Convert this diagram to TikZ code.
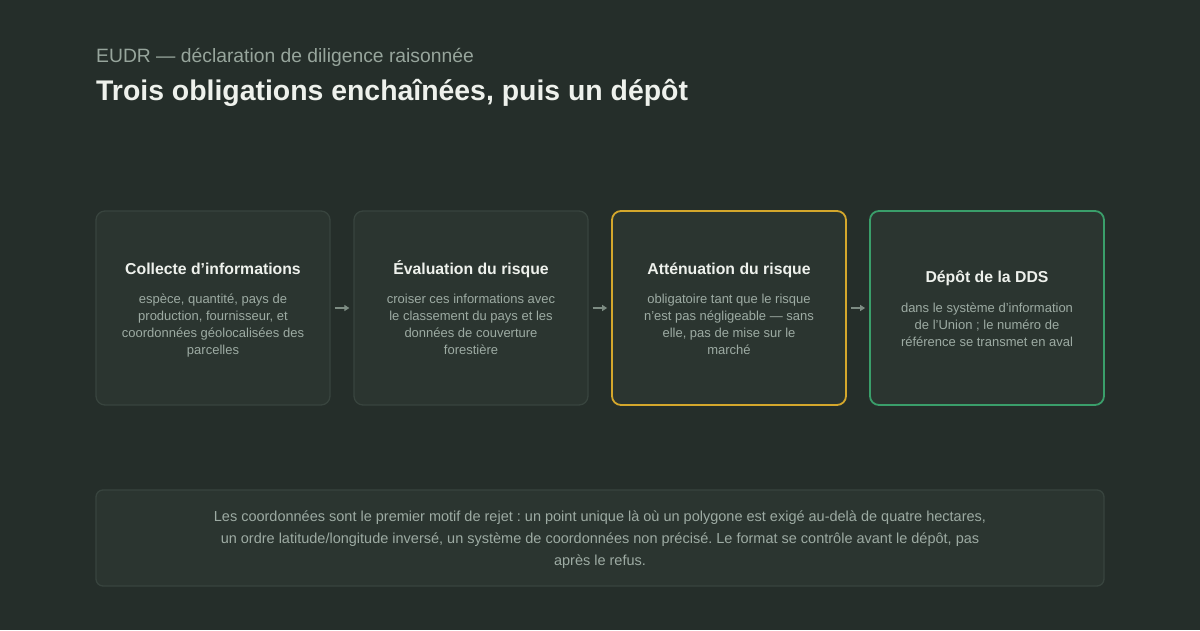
\documentclass[tikz,border=0pt]{standalone}
\usepackage{fontspec}
\setmainfont{Liberation Sans}
\usetikzlibrary{arrows.meta}
\frenchspacing
\definecolor{bgc}{HTML}{252E2A}
\definecolor{boxfill}{HTML}{2B3530}
\definecolor{boxline}{HTML}{38443E}
\definecolor{gold}{HTML}{D4A72C}
\definecolor{leaf}{HTML}{3A9E6A}
\definecolor{titlec}{HTML}{EEF1EC}
\definecolor{subc}{HTML}{97A59C}
\definecolor{bodyc}{HTML}{9DABA3}
\definecolor{arrc}{HTML}{7D8C83}
\tikzset{
  card/.style={draw=boxline, line width=1.3pt, fill=boxfill, rounded corners=9pt,
    minimum width=234pt, minimum height=194pt, inner sep=0pt},
  cardgold/.style={card, draw=gold, line width=1.8pt},
  cardgreen/.style={card, draw=leaf, line width=1.8pt},
  ttl/.style={anchor=base, inner sep=0pt, text=titlec, font=\fontsize{15.8}{19}\selectfont\bfseries},
  bodytxt/.style={anchor=base, inner sep=0pt, text=bodyc, font=\fontsize{13}{17}\selectfont},
  flow/.style={draw=arrc, line width=1.4pt, -{Triangle[length=5pt,width=6pt]}},
}
\begin{document}
\begin{tikzpicture}[x=1pt,y=-1pt]
\useasboundingbox (0,0) rectangle (1200,630);
\fill[bgc] (0,0) rectangle (1200,630);

\node[anchor=base west, inner sep=0pt, text=subc, font=\fontsize{19.3}{22}\selectfont] (sub) at (96,62) {EUDR — déclaration de diligence raisonnée};
\node[anchor=base west, inner sep=0pt, text=titlec, font=\fontsize{28.4}{32}\selectfont\bfseries] (head) at (96,100) {Trois obligations enchaînées, puis un dépôt};

\node[card] (b1) at (213,308) {};
\node[card] (b2) at (471,308) {};
\node[cardgold] (b3) at (729,308) {};
\node[cardgreen] (b4) at (987,308) {};

\node[ttl] (t1) at (213,274) {Collecte d’informations};
\node[bodytxt] (d1) at (213,303.5) {\begin{tabular}[t]{@{}c@{}}espèce, quantité, pays de\\production, fournisseur, et\\coordonnées géolocalisées des\\parcelles\end{tabular}};

\node[ttl] (t2) at (471,274) {Évaluation du risque};
\node[bodytxt] (d2) at (471,303.5) {\begin{tabular}[t]{@{}c@{}}croiser ces informations avec\\le classement du pays et les\\données de couverture\\forestière\end{tabular}};

\node[ttl] (t3) at (729,274) {Atténuation du risque};
\node[bodytxt] (d3) at (729,303.5) {\begin{tabular}[t]{@{}c@{}}obligatoire tant que le risque\\n’est pas négligeable — sans\\elle, pas de mise sur le\\marché\end{tabular}};

\node[ttl] (t4) at (987,282.5) {Dépôt de la DDS};
\node[bodytxt] (d4) at (987,312) {\begin{tabular}[t]{@{}c@{}}dans le système d’information\\de l’Union ; le numéro de\\référence se transmet en aval\end{tabular}};

\draw[flow] ([xshift=4pt]b1.east) -- ([xshift=-4pt]b2.west);
\draw[flow] ([xshift=4pt]b2.east) -- ([xshift=-4pt]b3.west);
\draw[flow] ([xshift=4pt]b3.east) -- ([xshift=-4pt]b4.west);

\node[draw=boxline, line width=1.3pt, fill=boxfill, rounded corners=7pt,
  minimum width=1008pt, minimum height=96pt, inner sep=0pt] (note) at (600,538) {};
\node[anchor=base, inner sep=0pt, text=bodyc, font=\fontsize{14.5}{22}\selectfont] (notetxt) at (600,521.5) {\begin{tabular}[t]{@{}c@{}}Les coordonnées sont le premier motif de rejet : un point unique là où un polygone est exigé au-delà de quatre hectares,\\un ordre latitude/longitude inversé, un système de coordonnées non précisé. Le format se contrôle avant le dépôt, pas\\après le refus.\end{tabular}};
\end{tikzpicture}
\end{document}
